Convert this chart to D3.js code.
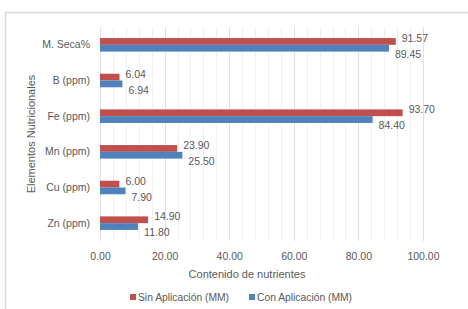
<!DOCTYPE html>
<html>
<head>
<meta charset="utf-8">
<script src="https://cdn.jsdelivr.net/npm/d3@7"></script>
<style>
  body { margin: 0; background: #fff; }
  svg text { font-family: "Liberation Sans", Arial, sans-serif; fill: #595959; }
</style>
</head>
<body>
<div id="chart"></div>
<script>
// datos del grafico
const categories = ['M. Seca%', 'B (ppm)', 'Fe (ppm)', 'Mn (ppm)', 'Cu (ppm)', 'Zn (ppm)']
const sinAplicacion = [91.57, 6.04, 93.70, 23.90, 6.00, 14.90]
const conAplicacion = [89.45, 6.94, 84.40, 25.50, 7.90, 11.80]
const seriesNames = ['Sin Aplicación (MM)', 'Con Aplicación (MM)']
const seriesColors = ['#C0504D', '#4F81BD']
const xTicks = [0, 20, 40, 60, 80, 100]

const W = 468
const H = 309
const margin = { top: 27, left: 100, right: 45, bottom: 68 }

const svg = d3.select('#chart').append('svg')
  .attr('width', W)
  .attr('height', H)

// marco exterior
svg.append('path')
  .attr('d', `M5.5,${H} V12.5 H${W}`)
  .attr('fill', 'none')
  .attr('stroke', '#D9D9D9')
  .attr('stroke-width', 1.5)

const x = d3.scaleLinear().domain([0, 100]).range([margin.left, W - margin.right])
const y = d3.scaleBand().domain(categories).range([margin.top, H - margin.bottom]).paddingInner(0.62).paddingOuter(0.31)
const ys = d3.scaleBand().domain([0, 1]).range([0, y.bandwidth()])

// lineas de cuadricula menores
svg.append('g').selectAll('line')
  .data(d3.range(4, 100, 4).filter(d => d % 20 !== 0))
  .enter().append('line')
  .attr('x1', d => Math.round(x(d)) + 0.5)
  .attr('x2', d => Math.round(x(d)) + 0.5)
  .attr('y1', margin.top)
  .attr('y2', H - margin.bottom)
  .attr('stroke', '#F0F0F0')

// lineas mayores
svg.append('g').selectAll('line')
  .data(xTicks)
  .enter().append('line')
  .attr('x1', d => Math.round(x(d)) + 0.5)
  .attr('x2', d => Math.round(x(d)) + 0.5)
  .attr('y1', margin.top)
  .attr('y2', H - margin.bottom)
  .attr('stroke', '#E0E0E0')

// eje x
const xAxis = svg.append('g')
  .attr('transform', `translate(0,${H - margin.bottom + 4})`)
  .call(d3.axisBottom(x).tickValues(xTicks).tickFormat(d3.format('.2f')).tickSize(0).tickPadding(8))
xAxis.select('.domain').remove()
xAxis.selectAll('text').attr('font-size', 10.5).attr('fill', '#595959').style('font-family', '"Liberation Sans", Arial, sans-serif')

// eje y
const yAxis = svg.append('g')
  .attr('transform', `translate(${margin.left - 10},0)`)
  .call(d3.axisLeft(y).tickSize(0).tickPadding(0))
yAxis.select('.domain').remove()
yAxis.selectAll('text').attr('font-size', 10.5).attr('fill', '#595959').style('font-family', '"Liberation Sans", Arial, sans-serif')

const series = [sinAplicacion, conAplicacion]

series.forEach((vals, s) => {
  const g = svg.append('g')
  g.selectAll('rect')
    .data(vals)
    .enter().append('rect')
    .attr('x', x(0))
    .attr('y', (d, i) => y(categories[i]) + ys(s))
    .attr('width', d => x(d) - x(0))
    .attr('height', ys.bandwidth())
    .attr('fill', seriesColors[s])

  g.selectAll('text')
    .data(vals)
    .enter().append('text')
    .attr('x', d => x(d) + 6)
    .attr('y', (d, i) => y(categories[i]) + ys(s) + ys.bandwidth() / 2 + (s === 0 ? -3 : 6))
    .attr('dy', '0.35em')
    .attr('font-size', 10.5)
    .text(d => d.toFixed(2))
})

// titulos de ejes
svg.append('text')
  .attr('x', 247)
  .attr('y', 278)
  .attr('text-anchor', 'middle')
  .attr('font-size', 11)
  .text('Contenido de nutrientes')

svg.append('text')
  .attr('transform', `translate(35,${(margin.top + H - margin.bottom) / 2}) rotate(-90)`)
  .attr('text-anchor', 'middle')
  .attr('font-size', 11)
  .text('Elementos Nutricionales')

// leyenda
const legendX = [130, 249]
const legend = svg.append('g')
seriesNames.forEach((name, s) => {
  legend.append('rect')
    .attr('x', legendX[s])
    .attr('y', 294)
    .attr('width', 6)
    .attr('height', 6)
    .attr('fill', seriesColors[s])
  legend.append('text')
    .attr('x', legendX[s] + 8)
    .attr('y', 297)
    .attr('dy', '0.35em')
    .attr('font-size', 10.3)
    .text(name)
})
</script>
</body>
</html>
